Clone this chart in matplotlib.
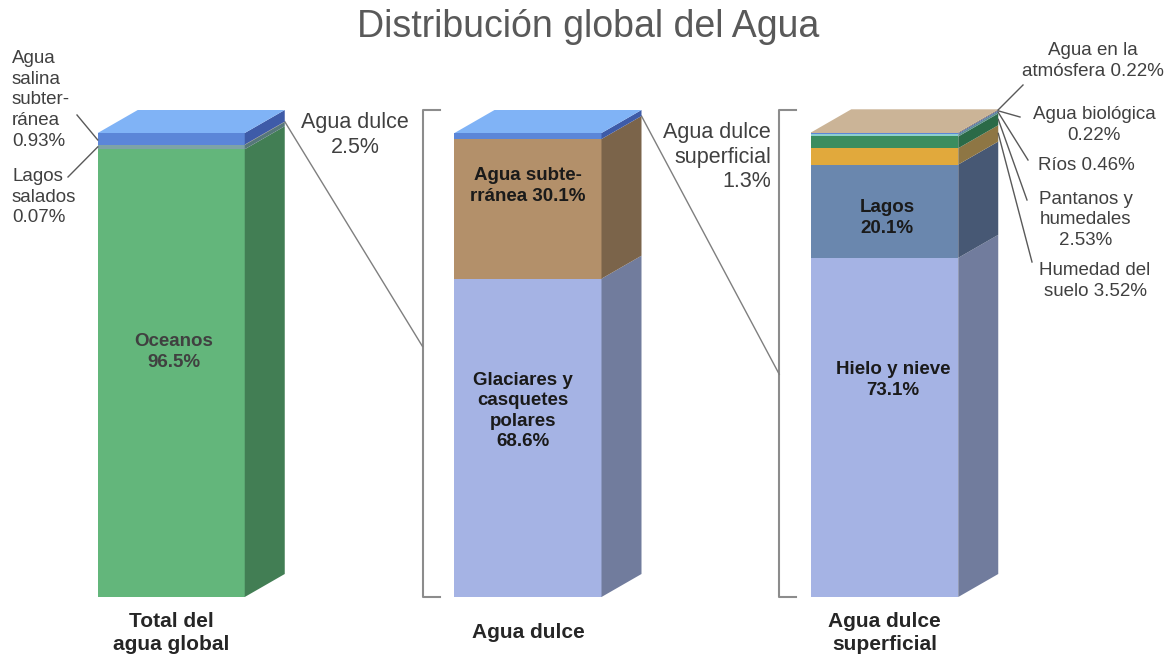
import numpy as np
import matplotlib
matplotlib.use('Agg')
from matplotlib import pyplot as plt
from matplotlib.patches import Polygon

plt.rcParams['font.family'] = ['Liberation Sans', 'DejaVu Sans']

# data
cats = ['Total del\nagua global', 'Agua dulce', 'Agua dulce\nsuperficial']

total_names = ['Oceanos', 'Agua salina subterránea', 'Lagos salados', 'Agua dulce']
total_vals = [96.5, 0.93, 0.07, 2.5]

dulce_names = ['Glaciares y casquetes polares', 'Agua subterránea', 'Agua dulce superficial']
dulce_vals = [68.6, 30.1, 1.3]

sup_names = ['Hielo y nieve', 'Lagos', 'Humedad del suelo', 'Pantanos y humedales',
             'Ríos', 'Agua biológica', 'Agua en la atmósfera']
sup_vals = [73.1, 20.1, 3.52, 2.53, 0.46, 0.22, 0.22]

# colours (front, side) per segment, top face per bar
total_front = ['#63b67b', '#7ea3a6', '#c9a15a', '#5b86d8']
total_side = ['#427e54', '#56777a', '#8a7040', '#3e5ba8']
dulce_front = ['#a5b3e4', '#b3906a', '#5b86d8']
dulce_side = ['#717c9d', '#7b644a', '#3e5ba8']
sup_front = ['#a5b3e4', '#6a87ae', '#e1a93c', '#3a8d5f', '#8ccfcf', '#5b86d8', '#c8b498']
sup_side = ['#717c9d', '#475874', '#8e7644', '#2b6a47', '#5f9090', '#3e5ba8', '#8c7d68']
top_cols = ['#80b3f6', '#80b3f6', '#cbb497']

stacks = [total_vals, dulce_vals, sup_vals]
fronts = [total_front, dulce_front, sup_front]
sides = [total_side, dulce_side, sup_side]

# pixel layout of the reference (x: px per category, y: px per percent)
PXU = 356.75
X0 = 171.25
PYU = 4.64
Y0 = 597
W = 147 / PXU
DX = 40 / PXU
DY = 23 / PYU
GREY = '#404040'


def px(x, y):
  # pixel (from top left) -> data coords
  return ((x - X0) / PXU, (Y0 - y) / PYU)


fig = plt.figure(figsize=(11.71, 6.58), dpi=100)
ax = fig.add_axes([0, 0, 1, 1])
ax.set_xlim(-X0 / PXU, (1171 - X0) / PXU)
ax.set_ylim(-(658 - Y0) / PYU, Y0 / PYU)
ax.axis('off')

xs = np.arange(len(cats))
for i, vals in enumerate(stacks):
  cum = np.concatenate([[0], np.cumsum(vals)])
  ax.bar(np.full(len(vals), xs[i]), vals, bottom=cum[:-1], width=W,
         color=fronts[i], linewidth=0, zorder=2)
  r = xs[i] + W / 2
  l = xs[i] - W / 2
  for b, t, c in zip(cum[:-1], cum[1:], sides[i]):
    ax.add_patch(Polygon([(r, b), (r + DX, b + DY), (r + DX, t + DY), (r, t)],
                         closed=True, color=c, linewidth=0, zorder=2))
  top = cum[-1]
  ax.add_patch(Polygon([(l, top), (r, top), (r + DX, top + DY), (l + DX, top + DY)],
                       closed=True, color=top_cols[i], linewidth=0, zorder=3))
  ax.text(xs[i], px(0, 633)[1], cats[i], ha='center', va='center',
          fontsize=15, fontweight='bold', color='#262626', linespacing=1.25)

# brackets + zoom lines
gap = 32 / PXU
tick = 17 / PXU
for i in (1, 2):
  bx = xs[i] - W / 2 - gap
  ax.plot([bx + tick, bx, bx, bx + tick], [100 + DY, 100 + DY, 0, 0],
          color='#8c8c8c', lw=1.5, zorder=1)
zoom_ends = [54, 48]
for i in (0, 1):
  vals = stacks[i]
  start = (xs[i] + W / 2 + DX, sum(vals[:-1]) + DY)
  end = (xs[i + 1] - W / 2 - gap, zoom_ends[i])
  ax.plot([start[0], end[0]], [start[1], end[1]], color='#7f7f7f', lw=1, zorder=1)

# title
ax.text(*px(588, 27), 'Distribución global del Agua', ha='center', va='center',
        fontsize=27, color='#595959')

# labels inside bars
inside = [
  (174, 352, 'Oceanos\n96.5%', GREY),
  (528, 186, 'Agua subte-\nrránea 30.1%', '#1a1a1a'),
  (523, 411, 'Glaciares y\ncasquetes\npolares\n68.6%', '#1a1a1a'),
  (887, 218, 'Lagos\n20.1%', '#1a1a1a'),
  (893, 380, 'Hielo y nieve\n73.1%', '#1a1a1a'),
]
for x, y, s, c in inside:
  ax.text(*px(x, y), s, ha='center', va='center', fontsize=13.5,
          fontweight='bold', color=c, linespacing=1.25)

# labels outside
ax.text(*px(12, 100), 'Agua\nsalina\nsubter-\nránea\n0.93%', ha='left', va='center',
        fontsize=13.5, color=GREY, linespacing=1.28)
ax.text(*px(12, 197), 'Lagos\nsalados\n0.07%', ha='left', va='center',
        fontsize=13.5, color=GREY, linespacing=1.28)
ax.plot(*zip(px(77, 115), (xs[0] - W / 2, 98.5)), color='#595959', lw=1)
ax.plot(*zip(px(68, 177), (xs[0] - W / 2, 97.0)), color='#595959', lw=1)

ax.text(*px(355, 135), 'Agua dulce\n2.5%', ha='center', va='center',
        fontsize=15.5, color=GREY, linespacing=1.22)
ax.text(*px(771, 157), 'Agua dulce\nsuperficial\n1.3%', ha='right', va='center',
        fontsize=15.5, color=GREY, linespacing=1.22, multialignment='right')

# right side labels of the last bar
right_labels = [
  (1093, 61, 'Agua en la\natmósfera 0.22%', (1023, 85)),
  (1094, 125, 'Agua biológica\n0.22%', (1020, 117)),
  (1086, 165, 'Ríos 0.46%', (1028, 160)),
  (1086, 220, 'Pantanos y\nhumedales\n2.53%', (1027, 200)),
  (1095, 281, 'Humedad del\nsuelo 3.52%', (1032, 262)),
]
cum3 = np.concatenate([[0], np.cumsum(sup_vals)])
mids3 = (cum3[:-1] + cum3[1:]) / 2
for k, (x, y, s, e) in enumerate(right_labels):
  ax.text(*px(x, y), s, ha='center', va='center', fontsize=13.5, color=GREY,
          linespacing=1.25)
  seg = len(sup_vals) - 1 - k
  start = (xs[2] + W / 2 + DX, mids3[seg] + DY)
  ax.plot(*zip(start, px(*e)), color='#595959', lw=1, zorder=4)

fig.savefig('out.png', dpi=100, facecolor='white')
